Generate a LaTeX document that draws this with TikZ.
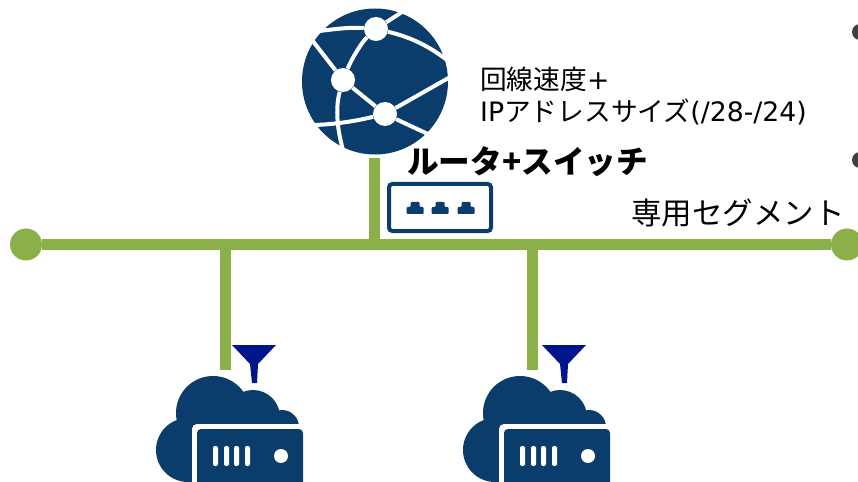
\documentclass[tikz,border=0pt]{standalone}
\usepackage{fontspec}
\setmainfont{Noto Sans CJK JP}
\newfontfamily\latinfont{DejaVu Sans}
\usetikzlibrary{positioning}

\definecolor{iconblue}{HTML}{0A3D6B}
\definecolor{linegreen}{HTML}{8BB04A}
\definecolor{funnelblue}{HTML}{00148C}
\definecolor{bulletgray}{HTML}{404040}

\begin{document}
\begin{tikzpicture}[
x=0.03cm, y=-0.03cm,
greenline/.style={draw=linegreen, line width=0.33cm},
endnode/.style={circle, fill=linegreen, minimum size=0.96cm, inner sep=0pt},
globenode/.style={circle, fill=iconblue, minimum size=4.38cm, inner sep=0pt},
hubnode/.style={circle, fill=white, minimum size=0.72cm, inner sep=0pt},
globeline/.style={draw=white, line width=0.12cm},
switchnode/.style={rectangle, rounded corners=0.1cm, draw=iconblue, fill=white, line width=0.12cm, minimum width=3.06cm, minimum height=1.41cm},
bulletnode/.style={circle, fill=bulletgray, minimum size=0.48cm, inner sep=0pt},
plaintext/.style={align=left, inner sep=0pt, font=\fontsize{22.8}{27.5}\selectfont},
port/.pic={
  \fill[iconblue, rounded corners=0.03cm] (-8.5,6) -- (-8.5,-1) -- (-4.5,-1) -- (-4.5,-6) -- (4.5,-6) -- (4.5,-1) -- (8.5,-1) -- (8.5,6) -- cycle;
},
funnel/.pic={
  \fill[funnelblue] (0,0) -- (44,0) -- (26,19) -- (25,38) -- (20,38) -- (18,19) -- cycle;
},
cloudserver/.pic={
  \fill[iconblue] (31,105) circle[radius=32];
  \fill[iconblue] (56,68) circle[radius=37];
  \fill[iconblue] (96,72) circle[radius=27];
  \fill[iconblue] (125,82) circle[radius=17];
  \fill[iconblue] (31,80) rectangle (142,137);
  \fill[white, rounded corners=0.15cm] (35,79) rectangle (153,145);
  \fill[iconblue, rounded corners=0.12cm] (40,84) rectangle (146,145);
  \fill[white, rounded corners=0.06cm] (56,101) rectangle (61,121) (67,101) rectangle (72,121) (77,101) rectangle (82,121) (88,101) rectangle (93,121);
  \fill[white] (124,111) circle[radius=7];
}
]
\useasboundingbox (0,0) rectangle (858,482);
\clip (0,0) rectangle (858,482);

%Nodes
\node[globenode]  (globe)      at (375,81.5) {};
\node[hubnode]    (tophub)     at (376,29) {};
\node[hubnode]    (lefthub)    at (343,80) {};
\node[hubnode]    (lowhub)     at (385,114) {};
\node[switchnode] (router)     at (440,207.5) {};
\node[endnode]    (leftend)    at (26,244.5) {};
\node[endnode]    (rightend)   at (847,244.5) {};
\node[bulletnode] (upperdot)   at (860,32) {};
\node[bulletnode] (lowerdot)   at (860,160) {};
\coordinate       (uplink)     at (374.5,158);
\coordinate       (uplinkfoot) at (374.5,244.5);
\coordinate       (leftfoot)   at (225.5,244.5);
\coordinate       (leftdrop)   at (225.5,370);
\coordinate       (rightfoot)  at (532.5,244.5);
\coordinate       (rightdrop)  at (532.5,370);

\pic at (415,208) {port};
\pic at (440,208) {port};
\pic at (466,208) {port};
\pic at (157,345) {cloudserver};
\pic at (464,345) {cloudserver};
\pic at (232,345) {funnel};
\pic at (542,345) {funnel};

%Text
\node[plaintext, anchor=base west] (speedlabel) at (480,122) {回線速度{\latinfont +}\\{\latinfont IP}アドレスサイズ{\latinfont (/28-/24)}};
\node[inner sep=0pt, anchor=base west, font=\fontsize{27}{30}\selectfont\bfseries] (routerlabel) at (407,174) {ルータ+スイッチ};
\node[inner sep=0pt, anchor=base west, font=\fontsize{26}{30}\selectfont] (segmentlabel) at (631,225) {専用セグメント};

%Lines
\draw[greenline] (leftend) -- (rightend);
\draw[greenline] (uplink) -- (uplinkfoot);
\draw[greenline] (leftfoot) -- (leftdrop);
\draw[greenline] (rightfoot) -- (rightdrop);

\begin{scope}
\clip (globe) circle[radius=75];
\draw[globeline] (tophub) -- (402,12);
\draw[globeline] (tophub) .. controls (350,27) and (335,29) .. (312,32);
\draw[globeline] (tophub) .. controls (415,38) and (435,50) .. (452,64);
\draw[globeline] (tophub) .. controls (362,42) and (352,58) .. (lefthub);
\draw[globeline] (lefthub) -- (312,40);
\draw[globeline] (lefthub) -- (lowhub);
\draw[globeline] (lefthub) .. controls (336,105) and (336,125) .. (343,150);
\draw[globeline] (lowhub) .. controls (360,120) and (340,124) .. (315,125);
\draw[globeline] (lowhub) -- (430,135);
\draw[globeline] (lowhub) -- (452,76);
\end{scope}
\end{tikzpicture}
\end{document}
